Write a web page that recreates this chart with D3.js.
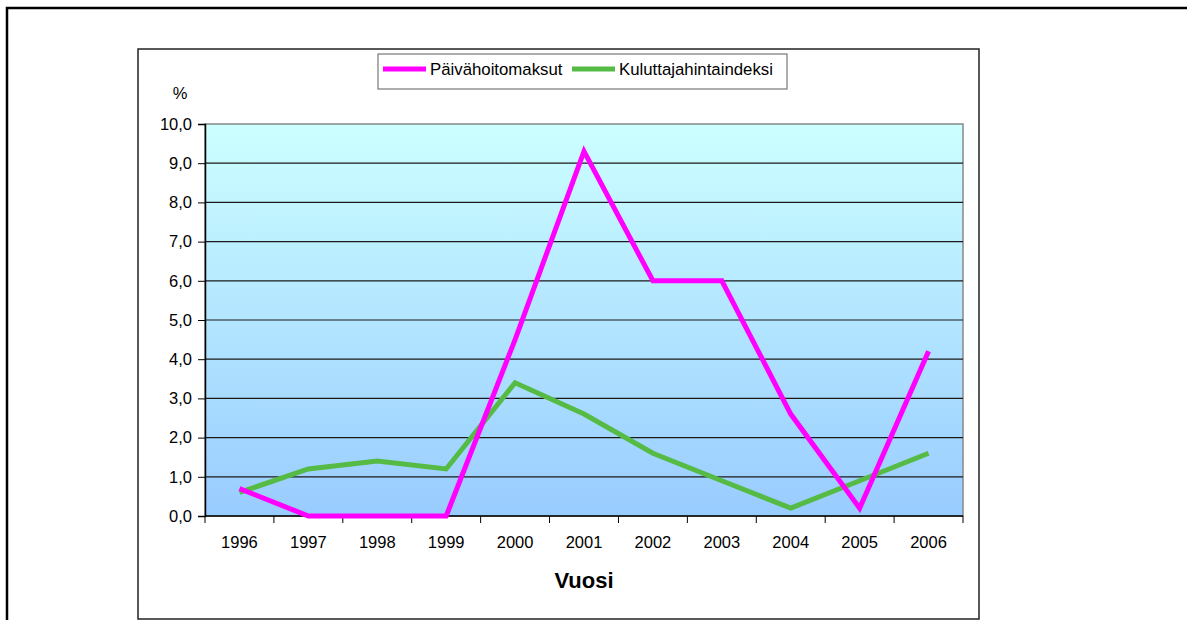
<!DOCTYPE html>
<meta charset="utf-8">
<head>
    <title>Päivähoitomaksut ja kuluttajahintaindeksi</title>
    <style>
      body { margin: 0; background: #fff; }
      text { font-family: "Liberation Sans", Arial, sans-serif; fill: #000; }
    </style>
</head>
<body>
    <script src="https://cdn.jsdelivr.net/npm/d3@7"></script>
    <div id="chart"></div>
    <script>

        var years = ['1996', '1997', '1998', '1999', '2000', '2001', '2002', '2003', '2004', '2005', '2006'];
        var paivahoito = [0.7, 0.0, 0.0, 0.0, 4.5, 9.3, 6.0, 6.0, 2.6, 0.2, 4.2];
        var kuluttaja = [0.6, 1.2, 1.4, 1.2, 3.4, 2.6, 1.6, 0.9, 0.2, 0.9, 1.6];
        var yTicks = [0, 1, 2, 3, 4, 5, 6, 7, 8, 9, 10];
        var seriesNames = ['Päivähoitomaksut', 'Kuluttajahintaindeksi'];

        var width = 1187;
        var height = 620;
        var plot = { left: 205, right: 963, top: 124, bottom: 516 };

        var svg = d3.select('#chart')
          .append('svg')
          .attr('width', width)
          .attr('height', height);

        var fi = d3.formatLocale({ decimal: ',', thousands: ' ', grouping: [3], currency: ['', ' €'] });
        var fmt = fi.format('.1f');

        var x = d3.scaleBand()
          .domain(years)
          .range([plot.left, plot.right])
          .padding(0);

        var y = d3.scaleLinear()
          .domain([0, 10])
          .range([plot.bottom, plot.top]);

        // outer frame (only top and left visible)
        svg.append('path')
          .attr('d', 'M7,' + height + 'V8H' + width)
          .attr('fill', 'none')
          .attr('stroke', '#000')
          .attr('stroke-width', 2.5);

        // chart area box
        svg.append('rect')
          .attr('x', 138).attr('y', 49)
          .attr('width', 841).attr('height', 570)
          .attr('fill', '#fff')
          .attr('stroke', '#222')
          .attr('stroke-width', 1.5);

        // plot background gradient
        var grad = svg.append('defs').append('linearGradient')
          .attr('id', 'bg')
          .attr('x1', 0).attr('y1', 0).attr('x2', 0).attr('y2', 1);
        grad.append('stop').attr('offset', '0%').attr('stop-color', '#ccffff');
        grad.append('stop').attr('offset', '100%').attr('stop-color', '#99ccff');

        svg.append('rect')
          .attr('x', plot.left).attr('y', plot.top)
          .attr('width', plot.right - plot.left)
          .attr('height', plot.bottom - plot.top)
          .attr('fill', 'url(#bg)')
          .attr('stroke', '#888')
          .attr('stroke-width', 1.5);

        // gridlines
        svg.append('g').selectAll('line')
          .data(yTicks.filter(function(d) { return d > 0 && d < 10; }))
          .enter().append('line')
          .attr('x1', plot.left).attr('x2', plot.right)
          .attr('y1', function(d) { return y(d); })
          .attr('y2', function(d) { return y(d); })
          .attr('stroke', '#1a1a1a')
          .attr('stroke-width', 1.2);

        // y axis
        var yAxis = svg.append('g')
          .attr('transform', 'translate(' + plot.left + ',0)')
          .call(d3.axisLeft(y).tickValues(yTicks).tickFormat(fmt).tickSize(7).tickPadding(6));
        yAxis.select('.domain').attr('stroke', '#000').attr('stroke-width', 1.5);
        yAxis.selectAll('.tick line').attr('stroke', '#000');
        yAxis.selectAll('text')
          .style('font-family', '"Liberation Sans", Arial, sans-serif')
          .style('font-size', '16.5px')
          .attr('fill', '#000');

        // x axis: labels at band centres, ticks at band edges
        var xAxis = svg.append('g')
          .attr('transform', 'translate(0,' + plot.bottom + ')');
        xAxis.append('line')
          .attr('x1', plot.left).attr('x2', plot.right)
          .attr('stroke', '#000').attr('stroke-width', 1.5);
        xAxis.selectAll('.xtick')
          .data(years.concat(['end']))
          .enter().append('line')
          .attr('class', 'xtick')
          .attr('x1', function(d) { return d === 'end' ? x.range()[1] : x(d); })
          .attr('x2', function(d) { return d === 'end' ? x.range()[1] : x(d); })
          .attr('y1', 0).attr('y2', 7)
          .attr('stroke', '#000');
        xAxis.selectAll('.xlabel')
          .data(years)
          .enter().append('text')
          .attr('class', 'xlabel')
          .attr('x', function(d) { return x(d) + x.bandwidth() / 2; })
          .attr('y', 32)
          .attr('text-anchor', 'middle')
          .style('font-size', '16.5px')
          .text(function(d) { return d; });

        svg.append('text')
          .attr('x', (plot.left + plot.right) / 2)
          .attr('y', 588)
          .attr('text-anchor', 'middle')
          .style('font-size', '22px')
          .style('font-weight', 'bold')
          .text('Vuosi');

        svg.append('text')
          .attr('x', 180)
          .attr('y', 99)
          .attr('text-anchor', 'middle')
          .style('font-size', '16.5px')
          .text('%');

        // lines
        var line = d3.line()
          .x(function(d, i) { return x(years[i]) + x.bandwidth() / 2; })
          .y(function(d) { return y(d); });

        var colors = ['#ff00ff', '#55bb44'];
        [kuluttaja, paivahoito].forEach(function(s, k) {
          svg.append('path')
            .datum(s)
            .attr('d', line)
            .attr('fill', 'none')
            .attr('stroke', k === 0 ? colors[1] : colors[0])
            .attr('stroke-width', 5)
            .attr('stroke-linejoin', 'miter');
        });

        // legend
        var legend = svg.append('g');
        legend.append('rect')
          .attr('x', 378).attr('y', 54)
          .attr('width', 409).attr('height', 35)
          .attr('fill', '#fff')
          .attr('stroke', '#777')
          .attr('stroke-width', 1.2);

        var legendX = [383, 572];
        seriesNames.forEach(function(name, i) {
          legend.append('line')
            .attr('x1', legendX[i]).attr('x2', legendX[i] + 43)
            .attr('y1', 69).attr('y2', 69)
            .attr('stroke', colors[i])
            .attr('stroke-width', 5);
          legend.append('text')
            .attr('x', legendX[i] + 47)
            .attr('y', 75)
            .style('font-size', '16.8px')
            .text(name);
        });
  </script>
</body>
